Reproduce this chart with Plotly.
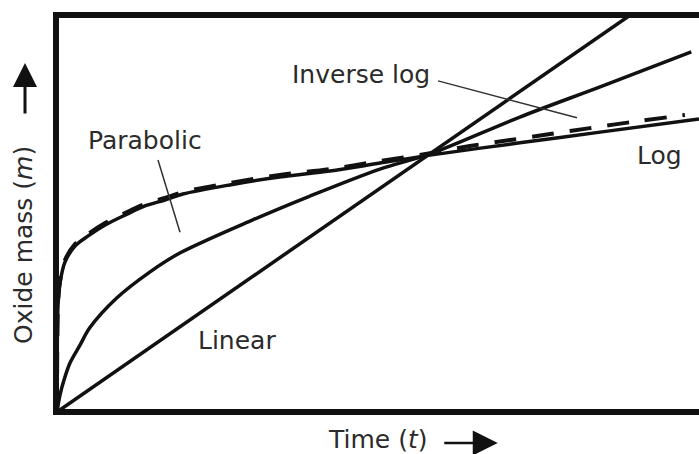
import plotly.graph_objects as go

# ---- data (time t, oxide mass m) ----
linear_t = [0, 8.93]
linear_m = [0, 10.0]

parabolic_t = [0, 0.047, 0.11, 0.20, 0.36, 0.51, 0.93, 1.45, 1.92, 3.05, 3.94, 5.03, 5.81, 7.21, 8.46, 9.88]
parabolic_m = [0, 0.43, 0.81, 1.23, 1.69, 2.12, 2.87, 3.53, 4.01, 4.84, 5.44, 6.12, 6.50, 7.43, 8.19, 9.07]

log_t = [0, 0.005, 0.016, 0.047, 0.125, 0.28, 0.48, 0.75, 1.06, 1.37, 1.68, 1.96, 2.69, 3.47, 4.25, 5.03, 5.81, 7.21, 8.46, 10.0]
log_m = [0, 1.81, 2.70, 3.25, 3.78, 4.18, 4.43, 4.71, 4.96, 5.19, 5.34, 5.49, 5.72, 5.92, 6.07, 6.27, 6.47, 6.78, 7.05, 7.38]

invlog_t = [0, 0.005, 0.016, 0.047, 0.125, 0.28, 0.48, 0.75, 1.06, 1.37, 1.68, 1.96, 2.69, 3.47, 4.25, 5.03, 5.81, 6.43, 7.06, 7.68, 8.30, 8.93, 9.78]
invlog_m = [0, 1.86, 2.75, 3.30, 3.83, 4.23, 4.48, 4.76, 5.01, 5.24, 5.39, 5.54, 5.77, 5.97, 6.12, 6.32, 6.52, 6.70, 6.85, 7.00, 7.15, 7.30, 7.48]

# label texts and their positions (data units)
label_text = ["Parabolic", "Inverse log", "Linear", "Log"]
label_t = [1.363, 4.735, 2.804, 9.385]
label_m = [6.85, 8.51, 1.79, 6.47]

# leader lines: (t0, m0, t1, m1)
leader_parabolic = [1.573, 6.35, 1.916, 4.53]
leader_invlog = [5.935, 8.34, 8.10, 7.41]

INK = "#111111"
TXT = "#2b2b2b"
FONT = "DejaVu Sans"

fig = go.Figure()

def curve(t, m, dash="solid", width=3.5):
    fig.add_trace(go.Scatter(x=t, y=m, mode="lines",
                             line=dict(color=INK, width=width, dash=dash, shape="spline", smoothing=0.9),
                             hoverinfo="skip", showlegend=False))

curve(linear_t, linear_m)
curve(parabolic_t, parabolic_m)
curve(log_t, log_m)
curve(invlog_t, invlog_m, dash="22px,16px", width=4)

for ld in (leader_parabolic, leader_invlog):
    fig.add_shape(type="line", xref="x", yref="y", x0=ld[0], y0=ld[1], x1=ld[2], y1=ld[3],
                  line=dict(color="#333333", width=1.5), layer="above")

for txt, t, m in zip(label_text, label_t, label_m):
    fig.add_annotation(x=t, y=m, xref="x", yref="y", text=txt, showarrow=False,
                       font=dict(family=FONT, size=25, color=TXT),
                       xanchor="center", yanchor="middle")

# frame (left, top, bottom; right side runs off the page)
fig.add_shape(type="rect", xref="paper", yref="paper", x0=0, y0=0, x1=1.05, y1=1,
              line=dict(color=INK, width=6), fillcolor="rgba(0,0,0,0)", layer="above")

# axis titles
fig.add_annotation(xref="paper", yref="paper", x=0.5, y=-0.0705, text="Time (<i>t</i>)",
                   showarrow=False, font=dict(family=FONT, size=25, color=TXT),
                   xanchor="center", yanchor="middle")
fig.add_annotation(xref="paper", yref="paper", x=-0.0498, y=0.4207, text="Oxide mass (<i>m</i>)",
                   showarrow=False, textangle=-90, font=dict(family=FONT, size=25, color=TXT),
                   xanchor="center", yanchor="middle")

# arrows
fig.add_annotation(xref="paper", yref="paper", x=-0.0482, y=0.879, ax=0, ay=52, text="",
                   showarrow=True, arrowhead=2, arrowsize=1.6, arrowwidth=3, arrowcolor=INK)
fig.add_annotation(xref="paper", yref="paper", x=0.687, y=-0.078, ax=-55, ay=0, text="",
                   showarrow=True, arrowhead=2, arrowsize=2.0, arrowwidth=2.5, arrowcolor=INK)

fig.update_xaxes(range=[-0.0156, 10.0], visible=False, fixedrange=True)
fig.update_yaxes(range=[0, 10.0], visible=False, fixedrange=True)
fig.update_layout(width=699, height=454, margin=dict(l=56, r=0, t=15, b=42),
                  plot_bgcolor="white", paper_bgcolor="white", showlegend=False)

fig.write_html("out.html")
